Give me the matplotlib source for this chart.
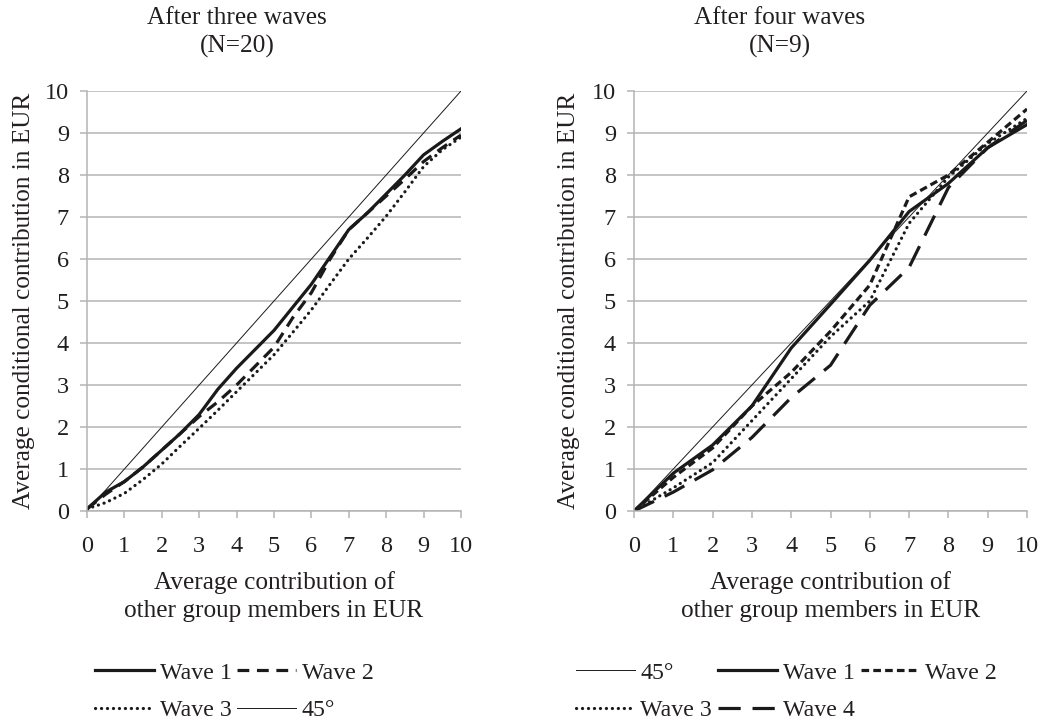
import numpy as np
import matplotlib
matplotlib.use("Agg")
import matplotlib.pyplot as plt

plt.rcParams['font.family'] = ['Liberation Serif', 'DejaVu Serif']
plt.rcParams['lines.scale_dashes'] = False

# left panel: after three waves (N=20)
x3 = [0, 0.5, 1, 1.5, 2, 2.5, 3, 3.5, 4, 4.5, 5, 5.5, 6, 6.5, 7, 7.5, 8, 8.5, 9, 9.5, 10]
w1_3 = [0.05, 0.45, 0.7, 1.05, 1.45, 1.85, 2.3, 2.9, 3.4, 3.85, 4.3, 4.85, 5.4, 6.05, 6.7, 7.1, 7.55, 8.0, 8.48, 8.8, 9.1]
w2_3 = [0.05, 0.4, 0.7, 1.05, 1.45, 1.85, 2.25, 2.6, 3.0, 3.45, 3.9, 4.6, 5.2, 6.0, 6.7, 7.1, 7.5, 7.9, 8.32, 8.65, 8.95]
w3_3 = [0.05, 0.2, 0.42, 0.75, 1.12, 1.55, 1.97, 2.4, 2.84, 3.28, 3.72, 4.25, 4.79, 5.4, 6.0, 6.5, 7.02, 7.6, 8.2, 8.6, 8.9]

# right panel: after four waves (N=9)
x4 = [0, 1, 2, 3, 4, 5, 6, 7, 8, 9, 10]
w1_4 = [0, 0.9, 1.57, 2.5, 3.88, 4.92, 5.97, 7.13, 7.8, 8.65, 9.2]
w2_4 = [0, 0.8, 1.5, 2.5, 3.3, 4.28, 5.38, 7.48, 8.0, 8.78, 9.57]
w3_4 = [0, 0.55, 1.15, 2.15, 3.15, 4.15, 5.0, 6.85, 7.95, 8.75, 9.35]
w4_4 = [0, 0.45, 0.98, 1.75, 2.7, 3.47, 4.9, 5.8, 7.7, 8.65, 9.3]

diag = [0, 10]
ticks = list(range(0, 11))

ink = '#1a1a1a'
txt = '#231f20'
gridc = '#b4b4b4'
fs = 18.2

fig = plt.figure(figsize=(10.4, 7.23), dpi=100)
W, H = 1040.0, 723.0

def make_ax(left, right, ylab_x):
    ax = fig.add_axes([left / W, 1 - 511 / H, (right - left) / W, 420 / H])
    ax.set_xlim(0, 10)
    ax.set_ylim(0, 10)
    ax.set_xticks(ticks)
    ax.set_yticks(ticks)
    for s in ['top', 'right']:
        ax.spines[s].set_visible(False)
    for s in ['left', 'bottom']:
        ax.spines[s].set_color(gridc)
        ax.spines[s].set_linewidth(1.1)
    ax.yaxis.grid(True, color=gridc, linewidth=1.1)
    ax.set_axisbelow(True)
    ax.tick_params(axis='both', direction='out', length=5, width=1.1, color=gridc,
                   labelsize=17.5, labelcolor=txt)
    ax.tick_params(axis='x', pad=13)
    ax.tick_params(axis='y', pad=8)
    ax.set_xlabel('Average contribution of\nother group members in EUR', fontsize=fs,
                  color=txt, labelpad=10, linespacing=1.35)
    ax.set_ylabel('Average conditional contribution in EUR', fontsize=fs, color=txt)
    ax.yaxis.set_label_coords((ylab_x - left) / (right - left), 0.5)
    return ax

dot = dict(linestyle=(0, (0.1, 4.2)), dash_capstyle='round', linewidth=2.3)
leg_kw = dict(loc='upper left', frameon=False, bbox_transform=fig.transFigure,
              borderpad=0, borderaxespad=0, handlelength=2.45, handletextpad=0.25,
              columnspacing=0.25, labelspacing=0.65, fontsize=17.2, labelcolor=txt)

# left
axL = make_ax(87, 461, 35)
l1, = axL.plot(x3, w1_3, color=ink, linewidth=2.3, label='Wave 1')
l2, = axL.plot(x3, w2_3, color=ink, linewidth=2.3, linestyle=(0, (8.5, 5.5)), label='Wave 2')
l3, = axL.plot(x3, w3_3, color=ink, label='Wave 3', **dot)
l45, = axL.plot(diag, diag, color=ink, linewidth=0.7, label='45°')
axL.legend(handles=[l1, l3, l2, l45], ncol=2, bbox_to_anchor=(95 / W, 1 - 662 / H), **leg_kw)

# right
axR = make_ax(634, 1027, 580)
r45, = axR.plot(diag, diag, color=ink, linewidth=0.7, label='45°')
r1, = axR.plot(x4, w1_4, color=ink, linewidth=2.3, label='Wave 1')
r2, = axR.plot(x4, w2_4, color=ink, linewidth=2.3, linestyle=(0, (5.5, 3)), label='Wave 2')
r3, = axR.plot(x4, w3_4, color=ink, label='Wave 3', **dot)
r4, = axR.plot(x4, w4_4, color=ink, linewidth=2.3, linestyle=(0, (16, 8.5)), label='Wave 4')
axR.legend(handles=[r45, r3, r1, r4, r2], ncol=3, bbox_to_anchor=(576 / W, 1 - 662 / H), **leg_kw)

fig.text(237 / W, 1 - 7 / H, 'After three waves\n(N=20)', ha='center', va='top',
         fontsize=fs, color=txt, linespacing=1.35)
fig.text(780 / W, 1 - 7 / H, 'After four waves\n(N=9)', ha='center', va='top',
         fontsize=fs, color=txt, linespacing=1.35)

fig.savefig('out.png', dpi=100, facecolor='white')
